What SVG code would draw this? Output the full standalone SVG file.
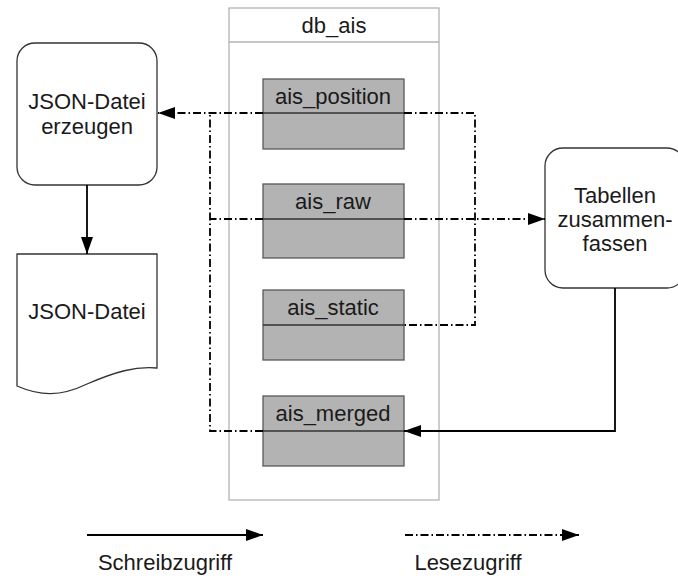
<svg xmlns="http://www.w3.org/2000/svg" width="678" height="581" viewBox="0 0 678 581">
  <style>
    text { font-family: "Liberation Sans", Arial, sans-serif; font-size: 22px; fill: #1a1a1a; text-anchor: middle; }
    .box { fill: #ffffff; stroke: #333333; stroke-width: 1.3; }
    .db { fill: #ffffff; stroke: #b3b3b3; stroke-width: 1.3; }
    .tbl { fill: #b3b3b3; stroke: #595959; stroke-width: 1.3; }
    .div { stroke: #333333; stroke-width: 1.3; }
    .write { fill: none; stroke: #000000; stroke-width: 1.8; }
    .read { fill: none; stroke: #000000; stroke-width: 1.8; stroke-dasharray: 8 3 1.5 3; }
  </style>
  <defs>
    <marker id="head" markerWidth="17" markerHeight="12" refX="17" refY="6" orient="auto" markerUnits="userSpaceOnUse">
      <path d="M0,0 L17,6 L0,12 Z" fill="#000000"/>
    </marker>
  </defs>

  <!-- database container -->
  <g id="db_ais">
    <rect class="db" x="229" y="8" width="210" height="492"/>
    <line class="db" x1="229" y1="42" x2="439" y2="42"/>
    <text x="334" y="33">db_ais</text>
  </g>

  <!-- tables -->
  <g id="ais_position">
    <rect class="tbl" x="263" y="79" width="141" height="70"/>
    <line class="div" x1="263" y1="113" x2="404" y2="113"/>
    <text x="333" y="104">ais_position</text>
  </g>
  <g id="ais_raw">
    <rect class="tbl" x="263" y="184" width="141" height="74"/>
    <line class="div" x1="263" y1="219" x2="404" y2="219"/>
    <text x="333" y="209">ais_raw</text>
  </g>
  <g id="ais_static">
    <rect class="tbl" x="263" y="290" width="141" height="70"/>
    <line class="div" x1="263" y1="325" x2="404" y2="325"/>
    <text x="333" y="315">ais_static</text>
  </g>
  <g id="ais_merged">
    <rect class="tbl" x="263" y="396" width="141" height="70"/>
    <line class="div" x1="263" y1="431" x2="404" y2="431"/>
    <text x="333" y="421">ais_merged</text>
  </g>

  <!-- process: create JSON file -->
  <g id="json_erzeugen">
    <rect class="box" x="17" y="43" width="140" height="142" rx="18" ry="18"/>
    <text x="87" y="109">JSON-Datei</text>
    <text x="87" y="134">erzeugen</text>
  </g>

  <!-- document: JSON file -->
  <g id="json_datei">
    <path class="box" d="M17,254 H157 V368 C135,366 115,372 87,384 C60,397 40,396 17,386 Z"/>
    <text x="87" y="319">JSON-Datei</text>
  </g>

  <!-- process: merge tables -->
  <g id="tabellen_zusammenfassen">
    <rect class="box" x="545" y="148" width="140" height="140" rx="18" ry="18"/>
    <text x="615" y="203">Tabellen</text>
    <text x="615" y="227">zusammen-</text>
    <text x="615" y="251">fassen</text>
  </g>

  <!-- connectors -->
  <g id="connectors">
    <!-- read access -->
    <path class="read" d="M263,113 H158" marker-end="url(#head)"/>
    <path class="read" d="M263,219 H210"/>
    <path class="read" d="M263,431 H210 V113"/>
    <path class="read" d="M404,113 H475 V325 H404"/>
    <path class="read" d="M404,219 H545" marker-end="url(#head)"/>
    <!-- write access -->
    <path class="write" d="M87,185 V254" marker-end="url(#head)"/>
    <path class="write" d="M615,288 V431 H404" marker-end="url(#head)"/>
  </g>

  <!-- legend -->
  <g id="legend">
    <path class="write" d="M87,535 H263" marker-end="url(#head)"/>
    <text x="165" y="570">Schreibzugriff</text>
    <path class="read" d="M405,535 H579" marker-end="url(#head)"/>
    <text x="468" y="570">Lesezugriff</text>
  </g>
</svg>
